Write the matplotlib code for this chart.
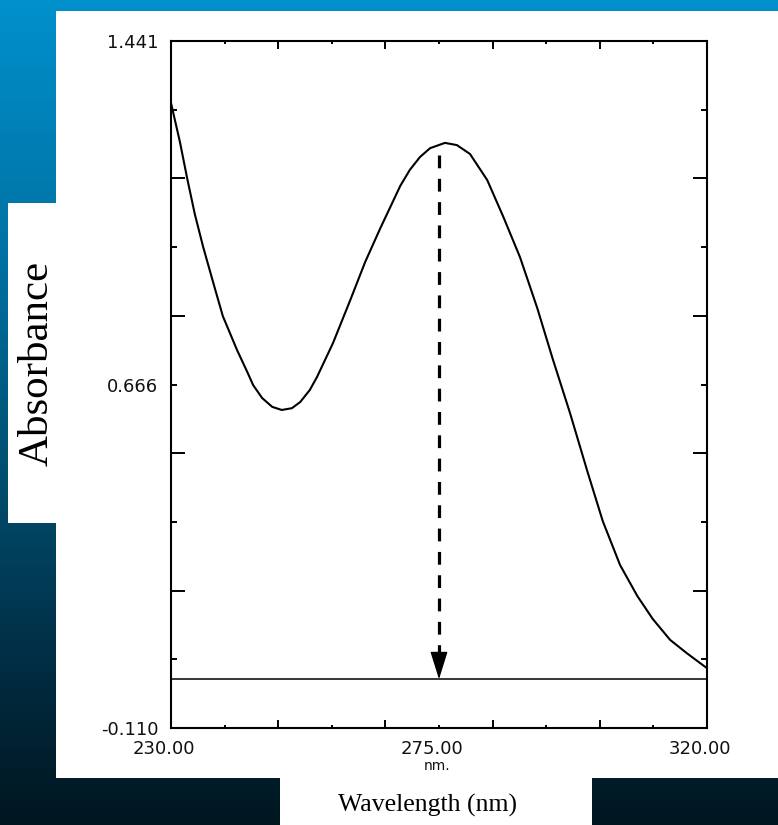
import numpy as np
import matplotlib
matplotlib.use("Agg")
import matplotlib.pyplot as plt
from matplotlib.colors import LinearSegmentedColormap
from matplotlib.patches import Rectangle
from matplotlib.transforms import ScaledTranslation, blended_transform_factory

# Spectrum
wavelength = [230.0, 231.5, 232.7, 234.0, 235.4, 237.1, 238.7, 241.1, 242.8,
              243.8, 245.3, 247.0, 248.6, 250.3, 251.7, 253.3, 254.5, 257.2,
              260.1, 262.6, 265.1, 268.5, 270.1, 271.8, 273.5, 276.0, 278.0,
              280.2, 283.1, 285.8, 288.6, 291.5, 294.1, 297.0, 299.9, 302.5,
              305.4, 308.3, 310.9, 313.8, 316.6, 320.0]
absorbance = [1.301, 1.213, 1.132, 1.050, 0.976, 0.895, 0.820, 0.743, 0.694,
              0.664, 0.635, 0.615, 0.608, 0.612, 0.626, 0.653, 0.682, 0.759,
              0.856, 0.942, 1.017, 1.114, 1.150, 1.179, 1.199, 1.211, 1.206,
              1.186, 1.127, 1.044, 0.953, 0.838, 0.723, 0.601, 0.470, 0.357,
              0.258, 0.188, 0.136, 0.089, 0.059, 0.025]

lambda_max = 275.0
arrow_top = 1.184
y_min, y_max = -0.110, 1.441
x_min, x_max = 230.0, 320.0

# tick positions
y_step = (y_max - y_min) / 10
y_major = [y_max - 2 * k * y_step for k in range(6)]
y_minor = [y_max - (2 * k + 1) * y_step for k in range(5)]
x_major = [230, 248, 266, 284, 302, 320]
x_minor = [239, 257, 275, 293, 311]

fig = plt.figure(figsize=(7.78, 8.25), dpi=100)

# gradient background
bg = fig.add_axes([0, 0, 1, 1])
bg.set_axis_off()
cmap = LinearSegmentedColormap.from_list(
    "bg", [(0, "#0090cc"), (0.3, "#0072a4"), (0.55, "#005274"),
           (0.78, "#003048"), (1.0, "#00161f")])
grad = np.linspace(0, 1, 256).reshape(-1, 1)
bg.imshow(grad, cmap=cmap, aspect="auto", extent=[0, 1, 0, 1], origin="upper")
bg.set_xlim(0, 1)
bg.set_ylim(0, 1)
for (x0, y0, w, h) in [(56, 11, 722, 767), (8, 203, 48, 320), (280, 778, 312, 47)]:
    bg.add_patch(Rectangle((x0 / 778, 1 - (y0 + h) / 825), w / 778, h / 825,
                           facecolor="white", edgecolor="none",
                           transform=bg.transAxes))

fig.text(37 / 778, 1 - 363 / 825, "Absorbance", rotation=90, ha="center",
         va="center", fontsize=31, family="Liberation Serif")
fig.text(427 / 778, 1 - 805 / 825, "Wavelength (nm)", ha="center",
         va="center", fontsize=18.5, family="Liberation Serif")

ax = fig.add_axes([171 / 778, 1 - 728 / 825, 536 / 778, 687 / 825])
ax.set_facecolor("white")
ax.plot(wavelength, absorbance, color="black", lw=1.5)
ax.axhline(0, color="black", lw=1.1)

# dashed line + arrow head at lambda max
ax.plot([lambda_max, lambda_max], [arrow_top, 0.06], color="black", lw=2.3,
        linestyle=(0, (4, 3.3)))
ax.annotate("", xy=(lambda_max, 0), xytext=(lambda_max, 0.06),
            arrowprops=dict(arrowstyle="-|>,head_length=0.8,head_width=0.25",
                            mutation_scale=22, color="black", lw=1,
                            shrinkA=0, shrinkB=0))

ax.set_xlim(x_min, x_max)
ax.set_ylim(y_min, y_max)

ax.set_xticks(x_major, ["230.00", "", "", "", "", "320.00"])
ax.set_xticks(x_minor, ["", "", "275.00", "", ""], minor=True)
ax.set_yticks(y_major, ["1.441", "", "", "", "", "-0.110"])
ax.set_yticks(y_minor, ["", "", "0.666", "", ""], minor=True)

ax.tick_params(axis="both", which="both", direction="in", colors="black",
               labelcolor="#111111", labelsize=13, width=1.4)
ax.tick_params(axis="x", which="both", top=True, pad=9)
ax.tick_params(axis="x", which="major", length=6)
ax.tick_params(axis="x", which="minor", length=2.2)
ax.tick_params(axis="y", which="both", right=True, pad=9)
ax.tick_params(axis="y", which="major", length=10)
ax.tick_params(axis="y", which="minor", length=4.3)

shift = ScaledTranslation(-7 / 100, 0, fig.dpi_scale_trans)
for lab in ax.get_xticklabels() + ax.get_xticklabels(minor=True):
    lab.set_transform(lab.get_transform() + shift)

for sp in ax.spines.values():
    sp.set_linewidth(1.5)

trans = blended_transform_factory(ax.transData, ax.transAxes)
ax.text(lambda_max - 0.3, -0.055, "nm.", transform=trans, ha="center",
        va="center", fontsize=10, color="#111111")

fig.savefig("out.png", dpi=100)
